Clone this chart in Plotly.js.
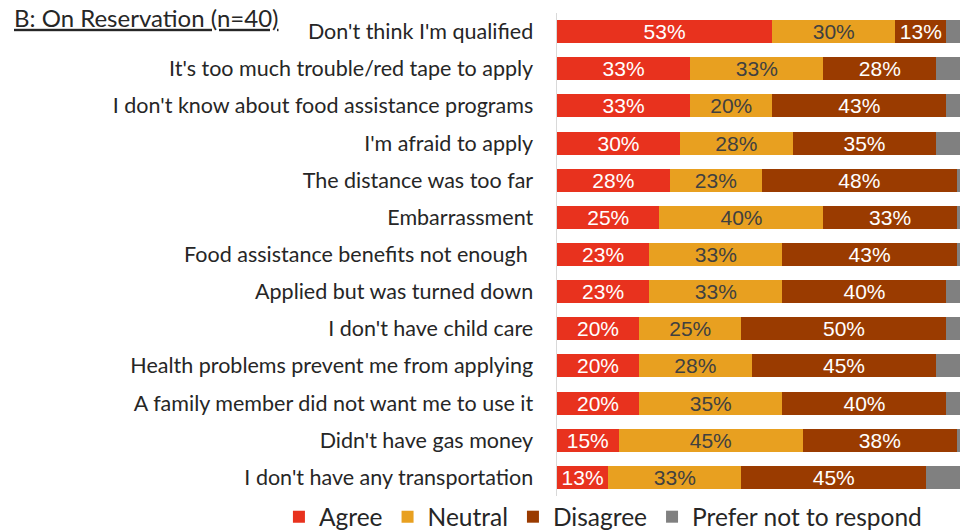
<!DOCTYPE html>
<html>
<head>
<meta charset="utf-8">
<script src="https://cdn.plot.ly/plotly-3.0.1.min.js"></script>
<style>
html,body{margin:0;padding:0;background:#fff;}
#chart{width:960px;height:530px;}
</style>
</head>
<body>
<div id="chart"></div>
<script>
const categories = [
  "Don't think I'm qualified",
  "It's too much trouble/red tape to apply",
  "I don't know about food assistance programs",
  "I'm afraid to apply",
  "The distance was too far",
  "Embarrassment",
  "Food assistance benefits not enough ",
  "Applied but was turned down",
  "I don't have child care",
  "Health problems prevent me from applying",
  "A family member did not want me to use it",
  "Didn't have gas money",
  "I don't have any transportation"
];
const agree    = [52.5, 32.5, 32.5, 30, 27.5, 25, 22.5, 22.5, 20, 20, 20, 15, 12.5];
const neutral  = [30, 32.5, 20, 27.5, 22.5, 40, 32.5, 32.5, 25, 27.5, 35, 45, 32.5];
const disagree = [12.5, 27.5, 42.5, 35, 47.5, 32.5, 42.5, 40, 50, 45, 40, 37.5, 45];
const preferNot = [5, 7.5, 5, 7.5, 2.5, 2.5, 2.5, 5, 5, 7.5, 5, 2.5, 10];
const seriesNames = ["Agree", "Neutral", "Disagree", "Prefer not to respond"];
const seriesColors = ["#E8321E", "#E8A020", "#9A3B00", "#808080"];
const textColors = ["#ffffff", "#404040", "#ffffff", "#ffffff"];
const title = "B: On Reservation (n=40)";

const seriesValues = [agree, neutral, disagree, preferNot];
const traces = seriesValues.map((vals, i) => ({
  type: "bar",
  orientation: "h",
  name: seriesNames[i],
  y: categories,
  x: vals,
  marker: {color: seriesColors[i], line: {width: 0}},
  text: i < 3 ? vals.map(v => Math.round(v) + "%") : vals.map(() => ""),
  textposition: i < 3 ? "inside" : "none",
  insidetextanchor: "middle",
  constraintext: "none",
  textangle: 0,
  textfont: {family: "Liberation Sans, Arial, sans-serif", size: 21, color: textColors[i]},
  hoverinfo: "skip"
}));

const layout = {
  width: 960, height: 530,
  margin: {l: 557, r: 0, t: 13, b: 34, autoexpand: false},
  barmode: "stack",
  bargap: 0.38,
  paper_bgcolor: "#fff", plot_bgcolor: "#fff",
  font: {family: "Lato, sans-serif", color: "#262626"},
  title: {
    text: "<u>" + title + "</u>",
    xref: "container", yref: "container", x: 14/960, y: 1, xanchor: "left", yanchor: "top",
    pad: {t: 10, l: 0},
    font: {family: "Lato, sans-serif", size: 24, color: "#262626"}
  },
  xaxis: {range: [0, 98.3], showgrid: false, zeroline: false, showticklabels: false, showline: false, fixedrange: true},
  yaxis: {autorange: "reversed", showgrid: false, zeroline: false, showline: true, linecolor: "#d9d9d9", linewidth: 1.5,
          ticks: "", ticklabelstandoff: 18, tickfont: {family: "Lato, sans-serif", size: 21.5, color: "#262626"}},
  showlegend: true,
  legend: {orientation: "h", xref: "paper", yref: "paper", x: -0.69, y: -0.043, xanchor: "left", yanchor: "middle",
           font: {family: "Lato, sans-serif", size: 24.5, color: "#262626"}, traceorder: "normal", itemwidth: 30,
           bgcolor: "rgba(0,0,0,0)"}
};

Plotly.newPlot("chart", traces, layout, {displayModeBar: false, staticPlot: true});
</script>
</body>
</html>
